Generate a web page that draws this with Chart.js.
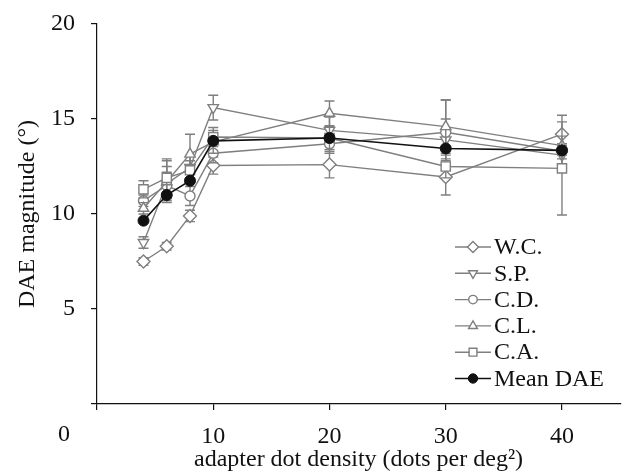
<!DOCTYPE html>
<html>
<head>
<meta charset="utf-8">
<script src="https://cdn.jsdelivr.net/npm/chart.js@4/dist/chart.umd.min.js"></script>
<style>
  html, body { margin: 0; padding: 0; background: #fff; }
  #wrap { width: 628px; height: 472px; }
</style>
</head>
<body>
<div id="wrap"><canvas id="daeChart" width="628" height="472"></canvas></div>
<script>
// ==================== DATA ====================
const densities = [4, 6, 8, 10, 20, 30, 40];

const wcValues = [7.5, 8.3, 9.9, 12.55, 12.6, 11.95, 14.2];
const wcErrors = [0.2, 0.2, 0.3, 0.45, 0.7, 0.95, 1.0];

const spValues = [8.5, 11.6, 12.45, 15.6, 14.4, 13.9, 13.1];
const spErrors = [0.3, 0.9, 0.6, 0.65, 0.7, 1.1, 0.5];

const cdValues = [10.7, 11.5, 10.95, 13.2, 13.7, 14.3, 13.3];
const cdErrors = [0.3, 0.7, 0.5, 0.5, 0.5, 1.7, 0.4];

const clValues = [10.3, 11.7, 13.15, 13.8, 15.3, 14.6, 13.6];
const clErrors = [0.3, 1.1, 1.05, 0.6, 0.65, 1.4, 0.5];

const caValues = [11.3, 11.9, 12.3, 14.05, 14.0, 12.5, 12.4];
const caErrors = [0.45, 1.0, 0.5, 0.5, 0.6, 0.6, 2.45];

const meanValues = [9.65, 11.0, 11.75, 13.85, 14.0, 13.45, 13.35];

const xTicks = [0, 10, 20, 30, 40];
const yTicks = [0, 5, 10, 15, 20];

// ==================== STYLE ====================
const GRAY = '#7f7f7f';
const FONT = "'Liberation Serif', 'Times New Roman', serif";

function toPoints(values) {
    return densities.map((d, i) => ({x: d, y: values[i]}));
}

function series(label, values, errors, pointStyle, radius, rotation, order) {
    return {
        label,
        data: toPoints(values),
        errors,
        borderColor: GRAY,
        borderWidth: 1.4,
        pointStyle,
        pointRadius: radius,
        pointRotation: rotation,
        pointBackgroundColor: '#fff',
        pointBorderColor: GRAY,
        pointBorderWidth: 1.4,
        tension: 0,
        order
    };
}

const datasets = [
    series('W.C.', wcValues, wcErrors, 'rectRot', 6.5, 0, 5),
    series('S.P.', spValues, spErrors, 'triangle', 6, 180, 4),
    series('C.D.', cdValues, cdErrors, 'circle', 5, 0, 3),
    series('C.L.', clValues, clErrors, 'triangle', 6, 0, 2),
    series('C.A.', caValues, caErrors, 'rect', 6.5, 0, 1),
    {
        label: 'Mean DAE',
        data: toPoints(meanValues),
        borderColor: '#111',
        borderWidth: 1.6,
        pointStyle: 'circle',
        pointRadius: 5.5,
        pointBackgroundColor: '#111',
        pointBorderColor: '#111',
        pointBorderWidth: 1,
        tension: 0,
        order: 0
    }
];

// ==================== PLUGINS ====================
const errorBars = {
    id: 'errorBars',
    beforeDatasetDraw(chart, args) {
        const ds = chart.data.datasets[args.index];
        if (!ds.errors) return;
        const {ctx, scales: {x, y}} = chart;
        ctx.save();
        ctx.strokeStyle = GRAY;
        ctx.lineWidth = 1.4;
        ds.data.forEach((p, i) => {
            const e = ds.errors[i];
            const px = x.getPixelForValue(p.x);
            const top = y.getPixelForValue(p.y + e);
            const bot = y.getPixelForValue(p.y - e);
            ctx.beginPath();
            ctx.moveTo(px, top); ctx.lineTo(px, bot);
            ctx.moveTo(px - 5, top); ctx.lineTo(px + 5, top);
            ctx.moveTo(px - 5, bot); ctx.lineTo(px + 5, bot);
            ctx.stroke();
        });
        ctx.restore();
    }
};

const sideLegend = {
    id: 'sideLegend',
    afterDraw(chart) {
        const ctx = chart.ctx;
        const left = 455, top = 247, rowH = 26.3;
        ctx.save();
        ctx.font = '24px ' + FONT;
        ctx.textBaseline = 'middle';
        ctx.textAlign = 'left';
        chart.data.datasets.forEach((ds, i) => {
            const y = top + i * rowH;
            ctx.strokeStyle = ds.borderColor;
            ctx.lineWidth = ds.borderWidth;
            ctx.beginPath();
            ctx.moveTo(left, y); ctx.lineTo(left + 36, y);
            ctx.stroke();
            ctx.fillStyle = ds.pointBackgroundColor;
            ctx.strokeStyle = ds.pointBorderColor;
            ctx.lineWidth = ds.pointBorderWidth;
            Chart.helpers.drawPoint(ctx, {
                pointStyle: ds.pointStyle,
                radius: ds.pointRadius * 0.85,
                rotation: ds.pointRotation || 0,
                borderWidth: ds.pointBorderWidth
            }, left + 18, y);
            ctx.fillStyle = '#111';
            ctx.fillText(ds.label, left + 39, y + 1);
        });
        ctx.restore();
    }
};

// shared "0" at the corner of both axes
const originLabel = {
    id: 'originLabel',
    afterDraw(chart) {
        const {ctx, scales: {x, y}} = chart;
        ctx.save();
        ctx.font = '24px ' + FONT;
        ctx.fillStyle = '#111';
        ctx.textAlign = 'center';
        ctx.textBaseline = 'middle';
        ctx.fillText('0', x.getPixelForValue(0) - 33, y.getPixelForValue(0) + 31);
        ctx.restore();
    }
};

// ==================== CHART ====================
new Chart(document.getElementById('daeChart'), {
    type: 'line',
    data: {datasets},
    plugins: [errorBars, sideLegend, originLabel],
    options: {
        responsive: false,
        animation: false,
        layout: {padding: {top: 24, right: 4, bottom: 0, left: 0}},
        plugins: {legend: {display: false}, tooltip: {enabled: false}},
        scales: {
            x: {
                type: 'linear',
                min: 0,
                max: 45,
                afterFit: s => { s.height = 68; s.paddingLeft = 0; s.paddingRight = 0; },
                afterBuildTicks: s => { s.ticks = xTicks.map(v => ({value: v})); },
                ticks: {
                    callback: v => (v === 0 ? '' : v),
                    font: {family: FONT, size: 24},
                    color: '#111',
                    padding: 12,
                    maxRotation: 0
                },
                grid: {drawOnChartArea: false, tickLength: 6, color: '#111', lineWidth: 1.2},
                border: {color: '#111', width: 1.2},
                title: {
                    display: true,
                    text: 'adapter dot density (dots per deg\u00B2)',
                    font: {family: FONT, size: 24, lineHeight: 1},
                    color: '#111',
                    padding: {top: 0, bottom: 0}
                }
            },
            y: {
                min: 0,
                max: 20,
                afterFit: s => { s.width = 97; s.paddingTop = 0; s.paddingBottom = 0; },
                afterBuildTicks: s => { s.ticks = yTicks.map(v => ({value: v})); },
                ticks: {
                    callback: v => (v === 0 ? '' : v),
                    font: {family: FONT, size: 24},
                    color: '#111',
                    padding: 16
                },
                grid: {drawOnChartArea: false, tickLength: 6, color: '#111', lineWidth: 1.2},
                border: {color: '#111', width: 1.2},
                title: {
                    display: true,
                    text: 'DAE magnitude (\u00B0)',
                    font: {family: FONT, size: 24},
                    color: '#111',
                    padding: {top: 13.6, bottom: 0}
                }
            }
        }
    }
});
</script>
</body>
</html>
